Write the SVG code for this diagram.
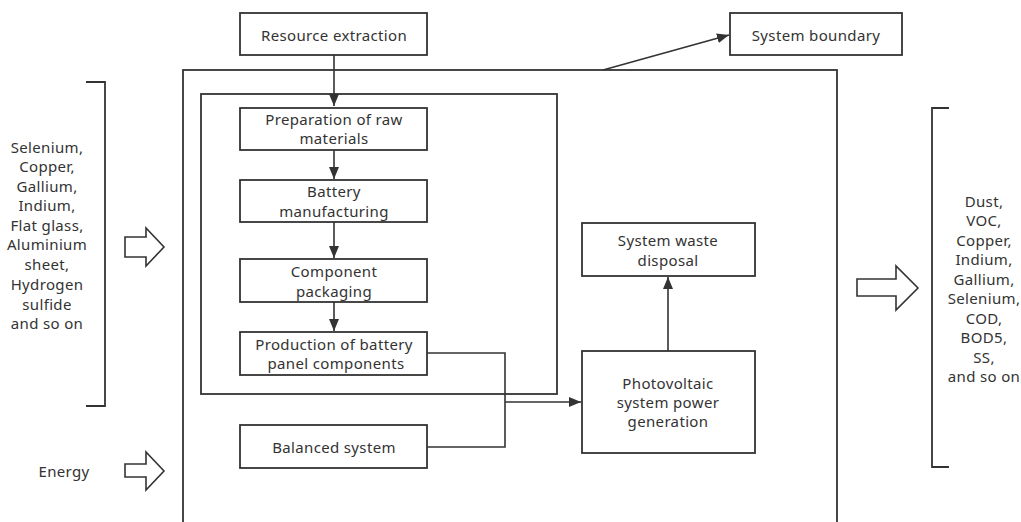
<svg xmlns="http://www.w3.org/2000/svg" width="1021" height="522" viewBox="0 0 1021 522">
<style>
.b{fill:#fff;stroke:#333;stroke-width:1.8}
.f{fill:none;stroke:#333;stroke-width:1.8}
.c{fill:none;stroke:#333;stroke-width:1.6}
.h{fill:#fff;stroke:#333;stroke-width:1.6;stroke-linejoin:miter}
text{font-family:"Noto Sans","Liberation Sans",sans-serif;font-size:15px;letter-spacing:0.35px;fill:#333;text-anchor:middle;dominant-baseline:central}
</style>
<defs>
<marker id="a" markerWidth="12" markerHeight="10" refX="12" refY="5" orient="auto" markerUnits="userSpaceOnUse">
<path d="M0,0 L12,5 L0,10 Z" fill="#333"/>
</marker>
</defs>
<rect width="1021" height="522" fill="#fff"/>
<g id="boundary-outer"><rect class="f" x="183" y="70" width="654" height="470"/></g>
<g id="boundary-inner"><rect class="f" x="201" y="94" width="356" height="300"/></g>
<g id="connectors">
<path class="c" d="M334,55 V106" marker-end="url(#a)"/>
<path class="c" d="M334,150 V179" marker-end="url(#a)"/>
<path class="c" d="M334,222 V258" marker-end="url(#a)"/>
<path class="c" d="M334,302 V331" marker-end="url(#a)"/>
<path class="c" d="M427,353 H505 V447 H427"/>
<path class="c" d="M505,402 H581" marker-end="url(#a)"/>
<path class="c" d="M668,351 V277" marker-end="url(#a)"/>
<path class="c" d="M603,70 L729,35" marker-end="url(#a)"/>
</g>
<g id="resource-extraction"><rect class="b" x="240" y="13" width="187" height="42"/><text x="334" y="35">Resource extraction</text></g>
<g id="system-boundary"><rect class="b" x="730" y="13" width="172" height="42"/><text x="816" y="35">System boundary</text></g>
<g id="preparation"><rect class="b" x="240" y="108" width="187" height="42"/><text x="334" y="119">Preparation of raw</text><text x="334" y="138">materials</text></g>
<g id="battery"><rect class="b" x="240" y="180" width="187" height="42"/><text x="334" y="191">Battery</text><text x="334" y="211">manufacturing</text></g>
<g id="component"><rect class="b" x="240" y="259" width="187" height="43"/><text x="334" y="271">Component</text><text x="334" y="291">packaging</text></g>
<g id="production"><rect class="b" x="240" y="332" width="187" height="43"/><text x="334" y="344">Production of battery</text><text x="336" y="363">panel components</text></g>
<g id="balanced"><rect class="b" x="240" y="425" width="187" height="43"/><text x="334" y="447">Balanced system</text></g>
<g id="waste"><rect class="b" x="582" y="223" width="173" height="53"/><text x="668" y="240">System waste</text><text x="668" y="260">disposal</text></g>
<g id="pv"><rect class="b" x="582" y="351" width="173" height="102"/><text x="668" y="383">Photovoltaic</text><text x="668" y="402">system power</text><text x="668" y="421">generation</text></g>
<g id="inputs">
<path class="f" d="M86,82 H105 V406 H86"/>
<text x="47" y="147">Selenium,</text>
<text x="47" y="166">Copper,</text>
<text x="47" y="186">Gallium,</text>
<text x="47" y="205">Indium,</text>
<text x="47" y="225">Flat glass,</text>
<text x="47" y="244">Aluminium</text>
<text x="47" y="264">sheet,</text>
<text x="47" y="284">Hydrogen</text>
<text x="47" y="304">sulfide</text>
<text x="47" y="323">and so on</text>
<path class="h" d="M125,237 H146 V228 L164,247 L146,266 V257 H125 Z"/>
</g>
<g id="energy">
<text x="64" y="471">Energy</text>
<path class="h" d="M125,464 H146 V452 L164,471 L146,490 V477 H125 Z"/>
</g>
<g id="outputs">
<path class="f" d="M949,108 H932 V467 H949"/>
<text x="984" y="201">Dust,</text>
<text x="984" y="220">VOC,</text>
<text x="984" y="240">Copper,</text>
<text x="984" y="259">Indium,</text>
<text x="984" y="279">Gallium,</text>
<text x="984" y="298">Selenium,</text>
<text x="984" y="318">COD,</text>
<text x="984" y="337">BOD5,</text>
<text x="984" y="357">SS,</text>
<text x="984" y="376">and so on</text>
<path class="h" d="M857,279 H896 V266 L918,288 L896,310 V296 H857 Z"/>
</g>
</svg>
